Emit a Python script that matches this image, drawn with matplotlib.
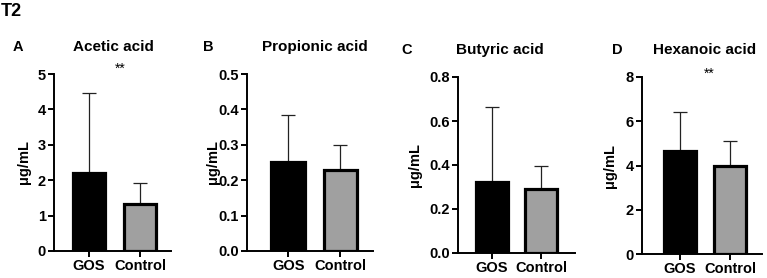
import matplotlib
matplotlib.use("Agg")
import matplotlib.pyplot as plt

plt.rcParams['font.family'] = ['Liberation Sans', 'DejaVu Sans']
plt.rcParams['font.weight'] = 'bold'

groups = ["GOS", "Control"]
titles = ["Acetic acid", "Propionic acid", "Butyric acid", "Hexanoic acid"]
letters = ["A", "B", "C", "D"]
means = [[2.21, 1.32], [0.252, 0.228], [0.325, 0.29], [4.66, 3.97]]
errs_top = [[4.45, 1.92], [0.383, 0.300], [0.664, 0.395], [6.42, 5.10]]
yticks = [[0, 1, 2, 3, 4, 5], [0.0, 0.1, 0.2, 0.3, 0.4, 0.5],
          [0.0, 0.2, 0.4, 0.6, 0.8], [0, 2, 4, 6, 8]]
ytick_labels = [["0", "1", "2", "3", "4", "5"],
                ["0.0", "0.1", "0.2", "0.3", "0.4", "0.5"],
                ["0.0", "0.2", "0.4", "0.6", "0.8"],
                ["0", "2", "4", "6", "8"]]
signif = ["**", "", "", "**"]

W, H = 767, 278
fig = plt.figure(figsize=(W / 100, H / 100), dpi=100)

# pixel boxes: left, right, top, bottom
boxes = [(54, 171, 74, 251), (247, 373, 74, 251), (458, 575, 77, 253), (642, 762, 77, 254)]
xlims = [(-0.69, 1.61), (-0.79, 1.63), (-0.69, 1.69), (-0.76, 1.64)]
title_pos = [(113, 47), (315, 47), (500, 50), (705, 50)]
letter_pos = [(18, 47), (208, 47), (407, 50), (617, 50)]
sig_pos = [(120, 69), None, None, (709, 74)]
ylabel_x = [31, 220, 422, 617]

def fx(px):
    return px / W

def fy(py):
    return 1 - py / H

fig.text(fx(1), fy(11), "T2", fontsize=13, fontweight='bold', va='center', ha='left')

for i in range(4):
    l, r, t, b = boxes[i]
    ax = fig.add_axes([fx(l), fy(b), (r - l) / W, (b - t) / H])
    x = [0, 1]
    m = means[i]
    e = [errs_top[i][k] - m[k] for k in range(2)]
    ax.bar(x, m, width=0.64, color=['black', '#a0a0a0'], edgecolor='black',
           linewidth=2.3, zorder=2)
    ax.errorbar(x, m, yerr=[[0, 0], e], fmt='none', ecolor='#222222',
                elinewidth=0.9, capsize=5, capthick=0.9, zorder=1)
    ax.set_xlim(*xlims[i])
    ax.set_ylim(yticks[i][0], yticks[i][-1])
    ax.set_yticks(yticks[i])
    ax.set_yticklabels(ytick_labels[i], fontsize=10.5, fontweight='bold')
    ax.set_xticks(x)
    ax.set_xticklabels(groups, fontsize=10.5, fontweight='bold')
    for s in ['top', 'right']:
        ax.spines[s].set_visible(False)
    for s in ['left', 'bottom']:
        ax.spines[s].set_linewidth(1.4)
    ax.tick_params(axis='both', width=1.4, length=4, pad=2)
    ax.set_ylabel("μg/mL", fontsize=10.5, fontweight='bold')
    ax.yaxis.set_label_coords((ylabel_x[i] - l) / (r - l), 0.5)
    fig.text(fx(title_pos[i][0]), fy(title_pos[i][1]), titles[i], fontsize=11,
             fontweight='bold', ha='center', va='center')
    fig.text(fx(letter_pos[i][0]), fy(letter_pos[i][1]), letters[i], fontsize=10.5,
             fontweight='bold', ha='center', va='center')
    if sig_pos[i] is not None:
        fig.text(fx(sig_pos[i][0]), fy(sig_pos[i][1]), signif[i], fontsize=10,
                 ha='center', va='center', fontweight='normal')

fig.savefig("out.png", dpi=100)
